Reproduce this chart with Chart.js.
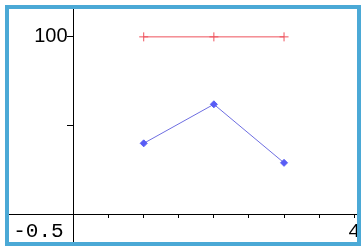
<!DOCTYPE html>
<html>
<head>
<meta charset="utf-8">
<script src="https://cdn.jsdelivr.net/npm/chart.js@4"></script>
<style>
  html, body { margin: 0; padding: 0; background: #fff; }
  .frame {
    position: absolute; left: 5px; top: 5px;
    width: 348px; height: 233px;
    border: 4px solid #4ba9d6;
    overflow: hidden; background: #fff;
  }
  .frame canvas { position: absolute; left: -40px; top: -40px; }
</style>
</head>
<body>
<div class="frame"><canvas id="c" width="428" height="313"></canvas></div>
<script>
// data
var xValues = [1, 2, 3];
var topSeries = [100, 100, 100];
var bottomSeries = [40, 62, 29];

// axis ticks
var xTickValues = [-0.5, 0, 0.5, 1, 1.5, 2, 2.5, 3, 3.5, 4];
var xTickLabels = {'-0.5': '-0.5', '4': '4'};
var yTickValues = [0, 50, 100];
var yTickLabels = {'100': '100'};

function pts(ys) {
    var out = [];
    for (var i = 0; i < xValues.length; i++) {
        out.push({x: xValues[i], y: ys[i]});
    }
    return out;
}

var ctx = document.getElementById('c').getContext('2d');
var myChart = new Chart(ctx, {
    type: 'line',
    data: {
        datasets: [{
            data: pts(topSeries),
            borderColor: 'rgb(238,82,92)',
            borderWidth: 1,
            pointStyle: 'cross',
            pointRadius: 4.5,
            pointBorderWidth: 1,
            pointBorderColor: 'rgb(238,82,92)',
            tension: 0
        }, {
            data: pts(bottomSeries),
            borderColor: 'rgb(110,110,225)',
            borderWidth: 1,
            pointStyle: 'rectRot',
            pointRadius: 3.5,
            pointBorderWidth: 1,
            pointBackgroundColor: 'rgb(88,92,245)',
            pointBorderColor: 'rgb(88,92,245)',
            tension: 0
        }]
    },
    options: {
        responsive: false,
        animation: false,
        layout: {padding: 40},
        plugins: {legend: {display: false}, tooltip: {enabled: false}},
        scales: {
            x: {
                type: 'linear',
                position: {y: 0},
                min: -0.92,
                max: 4.04,
                afterBuildTicks: function(axis) {
                    axis.ticks = xTickValues.map(function(v) { return {value: v}; });
                },
                ticks: {
                    autoSkip: false,
                    maxRotation: 0,
                    padding: 2,
                    color: '#000',
                    font: {family: 'Liberation Mono', size: 21},
                    callback: function(v) { return xTickLabels[String(v)] || ''; }
                },
                grid: {
                    drawOnChartArea: false,
                    tickLength: 3,
                    tickColor: function(c) { return c.tick && c.tick.value > 0 ? '#000' : 'rgba(0,0,0,0)'; }
                },
                border: {color: '#000', width: 1}
            },
            y: {
                type: 'linear',
                position: {x: 0},
                min: -15.6,
                max: 115.7,
                afterBuildTicks: function(axis) {
                    axis.ticks = yTickValues.map(function(v) { return {value: v}; });
                },
                // a centred y axis puts its labels right on the line, push them left of the tick
                afterUpdate: function(axis) {
                    if (axis._shifted) return;
                    axis._shifted = true;
                    var compute = axis._computeLabelItems;
                    axis._computeLabelItems = function(area) {
                        var items = compute.call(this, area);
                        items.forEach(function(it) { it.options.translation[0] -= 6; });
                        return items;
                    };
                },
                ticks: {
                    autoSkip: false,
                    padding: 0,
                    color: '#000',
                    font: {family: 'Liberation Sans', size: 20},
                    callback: function(v) { return yTickLabels[String(v)] || ''; }
                },
                grid: {
                    drawOnChartArea: false,
                    tickLength: 6,
                    tickColor: function(c) { return c.tick && c.tick.value > 0 ? '#000' : 'rgba(0,0,0,0)'; }
                },
                border: {color: '#000', width: 1}
            }
        }
    }
});
</script>
</body>
</html>
